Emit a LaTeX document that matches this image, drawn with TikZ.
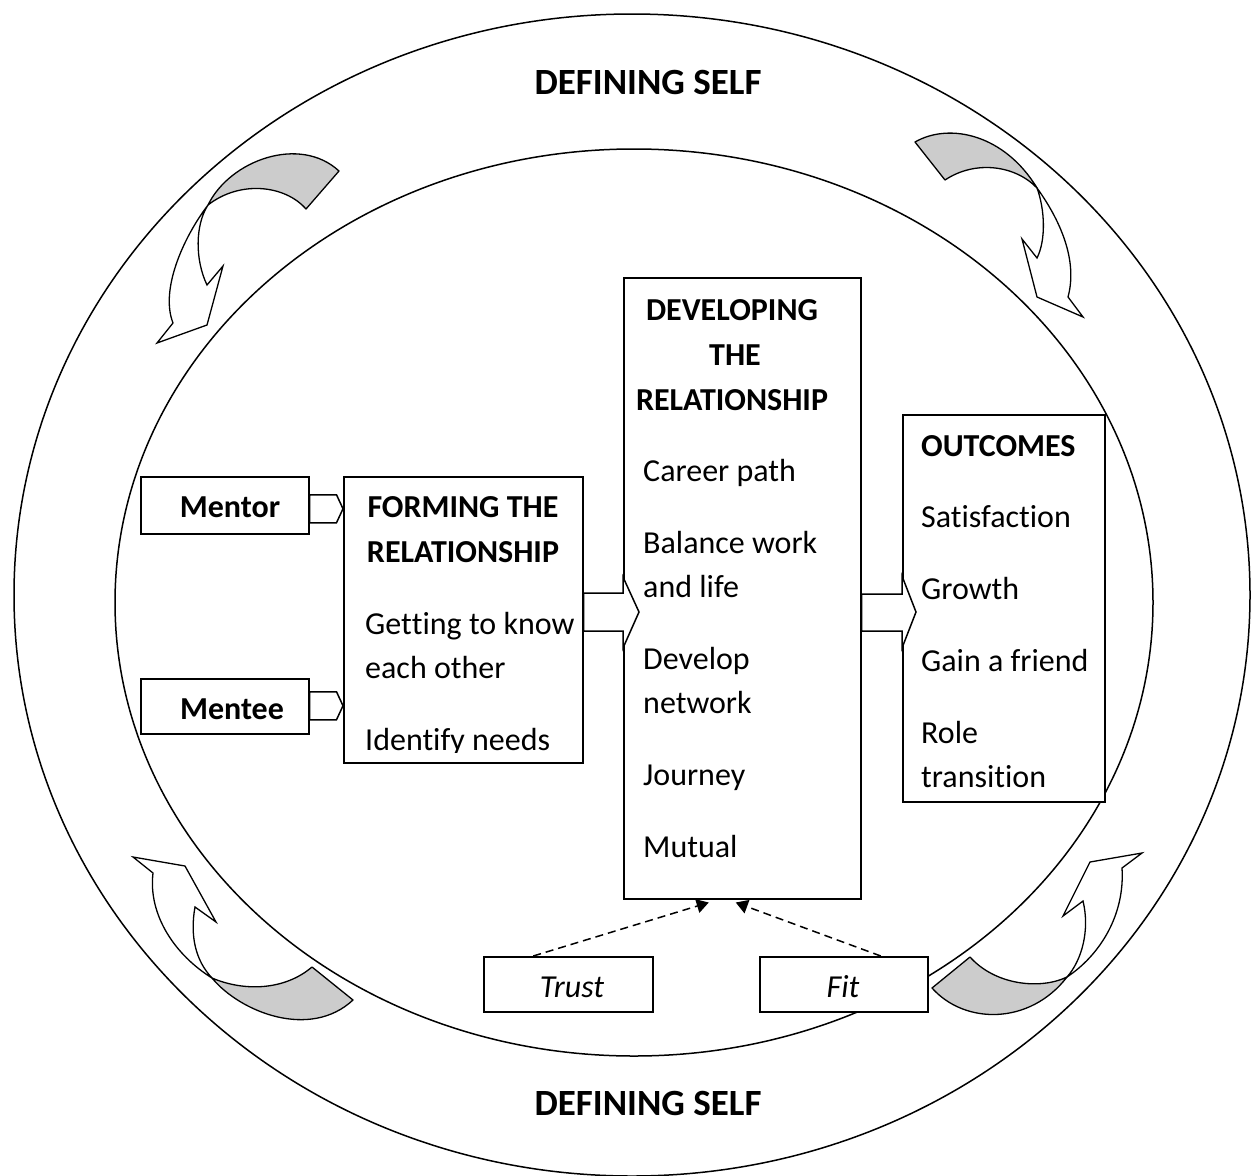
\documentclass[tikz,border=0pt]{standalone}
\usepackage{fontspec}
\setmainfont[Ligatures={NoCommon,NoRare,NoContextual}]{Carlito}
\usetikzlibrary{calc,arrows.meta}
\definecolor{bandgray}{RGB}{204,204,204}
\newcommand{\nl}{\kern0pt }
\begin{document}
\begin{tikzpicture}[x=1pt,y=-1pt,
  line/.style={line width=1.5pt},
  box/.style={draw, line width=1.5pt, fill=white, inner sep=0pt, anchor=north west},
  body/.style={anchor=base west, inner sep=0pt, font=\fontsize{32}{44}\selectfont},
  bodyb/.style={anchor=base west, inner sep=0pt, font=\fontsize{32}{44}\selectfont\bfseries},
  bodyc/.style={anchor=base, inner sep=0pt, font=\fontsize{32}{44}\selectfont\bfseries},
  bodyi/.style={anchor=base, inner sep=0pt, font=\fontsize{32}{44}\selectfont\itshape},
  titletxt/.style={anchor=base, inner sep=0pt, font=\fontsize{37}{44}\selectfont\bfseries},
  band/.style={draw, line width=1.3pt, fill=bandgray, line join=round},
  curv/.style={draw, line width=1.3pt, fill=white, line join=miter},
  blk/.style={draw, line width=1.5pt, fill=white, line join=miter},
  dsh/.style={line width=1.5pt, dash pattern=on 8pt off 5pt, -{Triangle[length=12pt,width=14pt]}}
]
\useasboundingbox (0,0) rectangle (1252,1175);

% ellipses
\draw[line] (632,595) ellipse [x radius=618, y radius=581];
\draw[line] (634,602.5) ellipse [x radius=519, y radius=453.5];

% titles
\node[titletxt] (top) at (648,94) {DEFINING SELF};
\node[titletxt] (bot) at (648,1115) {DEFINING SELF};

% curved arrows: top left
\draw[band] (208,205) .. controls (230,160) and (300,135) .. (339,171) -- (306,209) .. controls (285,185) and (240,180) .. (208,205) -- cycle;
\draw[curv] (208,205) .. controls (183,238) and (160,290) .. (173,323) -- (157,343) -- (207,325) -- (223,266) -- (207,285) .. controls (195,260) and (195,225) .. (208,205) -- cycle;
% top right
\draw[band] (915,142) .. controls (950,122) and (1005,135) .. (1037,188) .. controls (1015,165) and (975,160) .. (945,180) -- cycle;
\draw[curv] (1037,188) .. controls (1060,220) and (1078,260) .. (1068,297) -- (1083,317) -- (1037,297) -- (1022,239) -- (1037,258) .. controls (1046,240) and (1045,210) .. (1037,188) -- cycle;
% bottom left
\draw[band] (212,978) .. controls (240,1012) and (310,1040) .. (353,1000) -- (312,967) .. controls (285,990) and (245,992) .. (212,978) -- cycle;
\draw[curv] (212,978) .. controls (175,955) and (148,915) .. (153,873) -- (133,857) -- (185,866) -- (216,922) -- (195,907) .. controls (190,935) and (195,960) .. (212,978) -- cycle;
% bottom right
\draw[band] (932,988) .. controls (965,1025) and (1030,1025) .. (1067,977) .. controls (1040,990) and (995,985) .. (970,957) -- cycle;
\draw[curv] (1067,977) .. controls (1100,955) and (1125,915) .. (1122,868) -- (1142,853) -- (1090,862) -- (1063,916) -- (1083,901) .. controls (1090,930) and (1082,960) .. (1067,977) -- cycle;

% boxes
\node[box, minimum width=168pt, minimum height=57pt] (mentor) at (140,476) {};
\node[box, minimum width=168pt, minimum height=55pt] (mentee) at (140,678) {};
\node[box, minimum width=239pt, minimum height=286pt] (forming) at (343,476) {};
\node[box, minimum width=237pt, minimum height=621pt] (developing) at (623,277) {};
\node[box, minimum width=202pt, minimum height=387pt] (outcomes) at (902,414) {};
\node[box, minimum width=169pt, minimum height=55pt] (trust) at (483,956) {};
\node[box, minimum width=168pt, minimum height=55pt] (fit) at (759,956) {};

% texts
\node[bodyc] (tmentor) at (230,517) {Mentor};
\node[bodyc] (tmentee) at (232,719) {Mentee};

\node[bodyc] (f1) at (463,517) {FORMING THE};
\node[bodyc] (f2) at (463,562) {RELATIONSHIP};
\node[body] (f3) at (365,634) {Get\nl ting to know};
\node[body] (f4) at (365,678) {each other};
\begin{scope}
\clip (forming.north west) rectangle (582,752);
\node[body] (f5) at (365,750) {Identify needs};
\end{scope}

\node[bodyc] (d1) at (732,320) {DEVELOPING};
\node[bodyc] (d2) at (735,365) {THE};
\node[bodyc] (d3) at (732,410) {RELATIONSHIP};
\node[body] (d4) at (643,481) {Career path};
\node[body] (d5) at (643,553) {Balance work};
\node[body] (d6) at (643,597) {and life};
\node[body] (d7) at (643,669) {Develop};
\node[body] (d8) at (643,713) {network};
\node[body] (d9) at (643,785) {Journey};
\node[body] (d10) at (643,857) {Mutual};

\node[bodyb] (o1) at (921,456) {OUTCOMES};
\node[body] (o2) at (921,527) {Satisfac\nl tion};
\node[body] (o3) at (921,599) {Growth};
\node[body] (o4) at (921,671) {Gain a friend};
\node[body] (o5) at (921,743) {Role};
\node[body] (o6) at (921,787) {transi\nl tion};

\node[bodyi] (ttrust) at (572,997) {Trust};
\node[bodyi] (tfit) at (843,997) {Fit};

% small block arrows
\coordinate (ma) at ($(mentor.east)+(0,3.5)$);
\draw[blk] ($(ma)+(0,-14)$) -- ++(27,0) -- (forming.west |- ma) -- ($(ma)+(27,14)$) -- ($(ma)+(0,14)$) -- cycle;
\coordinate (me) at ($(mentee.east)+(0,-0.5)$);
\draw[blk] ($(me)+(0,-14)$) -- ++(27,0) -- (forming.west |- me) -- ($(me)+(27,14)$) -- ($(me)+(0,14)$) -- cycle;

% big block arrows
\coordinate (fa) at (forming.east |- 0,612);
\draw[blk] ($(fa)+(0,-19)$) -- (developing.west |- 0,593) -- ($(developing.west |- 0,612)+(0,-35)$) -- ($(developing.west |- 0,612)+(16,0)$) -- ($(developing.west |- 0,612)+(0,36)$) -- (developing.west |- 0,631) -- ($(fa)+(0,19)$) -- cycle;
\coordinate (da) at (developing.east |- 0,612);
\draw[blk] ($(da)+(0,-18)$) -- (outcomes.west |- 0,594) -- ($(outcomes.west |- 0,612)+(0,-36)$) -- ($(outcomes.west |- 0,612)+(14,0)$) -- ($(outcomes.west |- 0,612)+(0,36)$) -- (outcomes.west |- 0,631) -- ($(da)+(0,19)$) -- cycle;

% dashed arrows
\draw[dsh] ($(trust.north)+(-35,0)$) -- ($(developing.south)+(-33.5,3)$);
\draw[dsh] ($(fit.north)+(37,0)$) -- ($(developing.south)+(-6.5,3)$);
\end{tikzpicture}
\end{document}
